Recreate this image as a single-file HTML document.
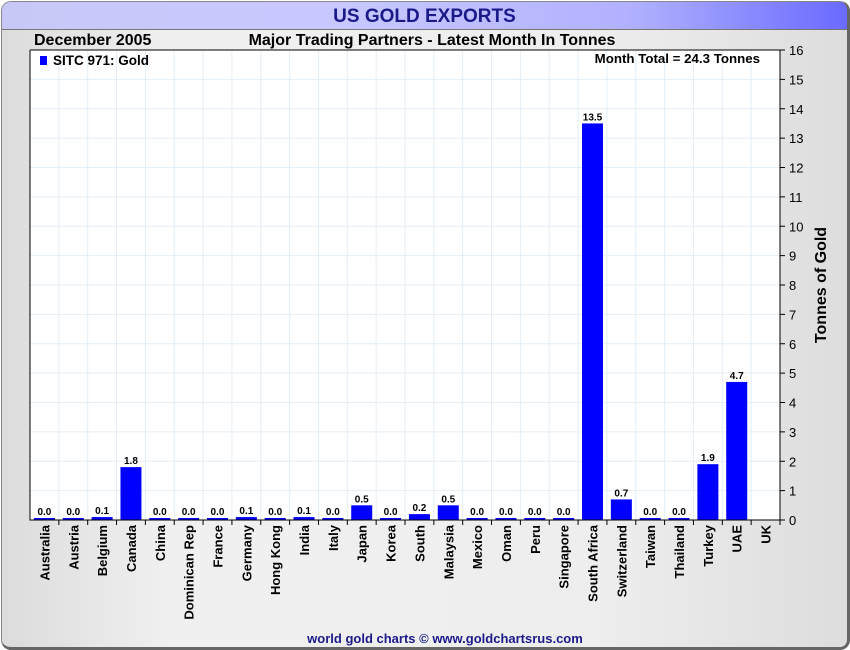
<!DOCTYPE html>
<html><head><meta charset="utf-8"><style>
body{margin:0;width:850px;height:650px;overflow:hidden;background:#fff;font-family:"Liberation Sans",sans-serif}
#frame{position:absolute;left:1px;top:1px;width:845px;height:645px;border:1px solid #888;border-right:3px solid #666;border-bottom:3px solid #666;border-radius:10px;background:linear-gradient(90deg,#dcdcdc,#f0f0f0 20%,#eee 70%,#ddd);overflow:hidden}
#titlebar{position:absolute;left:0;top:0;width:100%;height:27px;background:linear-gradient(90deg,#c8c8f8,#c8c8ff 40%,#b0b0ff 75%,#6a6aff);border-bottom:1px solid #777;text-align:center;font-weight:bold;font-size:19px;line-height:29px;color:#1a1a8a}
</style></head><body>
<div id="frame">
<div id="titlebar">US GOLD EXPORTS</div>
</div>
<svg id="c" width="850" height="650" style="position:absolute;left:0;top:0" font-family="Liberation Sans, sans-serif"></svg>
<script>
const categories=["Australia","Austria","Belgium","Canada","China","Dominican Rep","France","Germany","Hong Kong","India","Italy","Japan","Korea","South","Malaysia","Mexico","Oman","Peru","Singapore","South Africa","Switzerland","Taiwan","Thailand","Turkey","UAE","UK"];
const values=[0.0,0.0,0.1,1.8,0.0,0.0,0.0,0.1,0.0,0.1,0.0,0.5,0.0,0.2,0.5,0.0,0.0,0.0,0.0,13.5,0.7,0.0,0.0,1.9,4.7,null];
const labels=["0.0","0.0","0.1","1.8","0.0","0.0","0.0","0.1","0.0","0.1","0.0","0.5","0.0","0.2","0.5","0.0","0.0","0.0","0.0","13.5","0.7","0.0","0.0","1.9","4.7",""];
const yTicks=[0,1,2,3,4,5,6,7,8,9,10,11,12,13,14,15,16];
const L=30,R=780,T=50,B=520,YMAX=16;
const svg=document.getElementById('c');const NS='http://www.w3.org/2000/svg';
const bw=(R-L)/categories.length;
const x=i=>L+i*bw; const y=v=>B-(v/YMAX)*(B-T);
function mk(t,a,p){const e=document.createElementNS(NS,t);for(const k in a)e.setAttribute(k,a[k]);(p||svg).appendChild(e);return e;}
const plot=mk('rect',{x:L,y:T,width:R-L,height:B-T,fill:'#fff'});


yTicks.forEach(t=>{
 const g=mk('line',{x1:L,x2:R,y1:y(t),y2:y(t),stroke:'#e2eef8','stroke-width':1});
 
 
 const tk=mk('line',{x1:R,x2:R+5,y1:y(t),y2:y(t),stroke:'#000'});
 
 
 const tl=mk('text',{x:R+9,y:y(t)+5,'font-size':13,fill:'#000'});tl.textContent=t;
 
 
});
categories.forEach((c,i)=>{
 if(i>0){const g=mk('line',{x1:x(i),x2:x(i),y1:T,y2:B,stroke:'#e2eef8'});
 
 }
 const tk=mk('line',{x1:x(i+1),x2:x(i+1),y1:B,y2:B+5,stroke:'#000'});
 
 
 const cx=x(i)+bw/2;
 const tl=mk('text',{x:0,y:0,'font-size':13,'font-weight':'bold',fill:'#000','text-anchor':'end',transform:`translate(${cx+5},${B+5}) rotate(-90)`});tl.textContent=c;
 
 
 const v=values[i];
 if(v!==null){
  const h=Math.max(B-y(v),2);
  const b=mk('rect',{x:cx-10.5,y:B-h,width:21,height:h,fill:'#0000ff'});
  
  
  const vl=mk('text',{x:cx,y:B-h-3,'font-size':10,'font-weight':'bold','text-anchor':'middle',fill:'#000'});vl.textContent=labels[i];
  
  
 }
});
const ax=mk('path',{d:`M${L},${T}V${B}H${R}V${T}H${L}`,fill:'none',stroke:'#000','stroke-width':1});


function txt(s,a,n){const e=mk('text',a);e.textContent=s;return e;}
txt('December 2005',{x:34,y:45,'font-size':16,'font-weight':'bold'},'date-label');
txt('Major Trading Partners - Latest Month In Tonnes',{x:432,y:45,'font-size':16,'font-weight':'bold','text-anchor':'middle'},'subtitle');
txt('Month Total = 24.3 Tonnes',{x:760,y:63,'font-size':13.3,'font-weight':'bold','text-anchor':'end'},'month-total');
const lg=mk('rect',{x:40,y:56,width:7,height:9,fill:'#0000ff'});


txt('SITC 971: Gold',{x:53,y:65,'font-size':13.5,'font-weight':'bold'},'legend-entry');
txt('Tonnes of Gold',{x:0,y:0,'font-size':16,'font-weight':'bold','text-anchor':'middle',transform:'translate(826,285) rotate(-90)'},'y-axis-title');
txt('world gold charts © www.goldchartsrus.com',{x:445,y:643,'font-size':13,'font-weight':'bold','text-anchor':'middle',fill:'#1a1a8a'},'footer-credit');
</script>
</body></html>
